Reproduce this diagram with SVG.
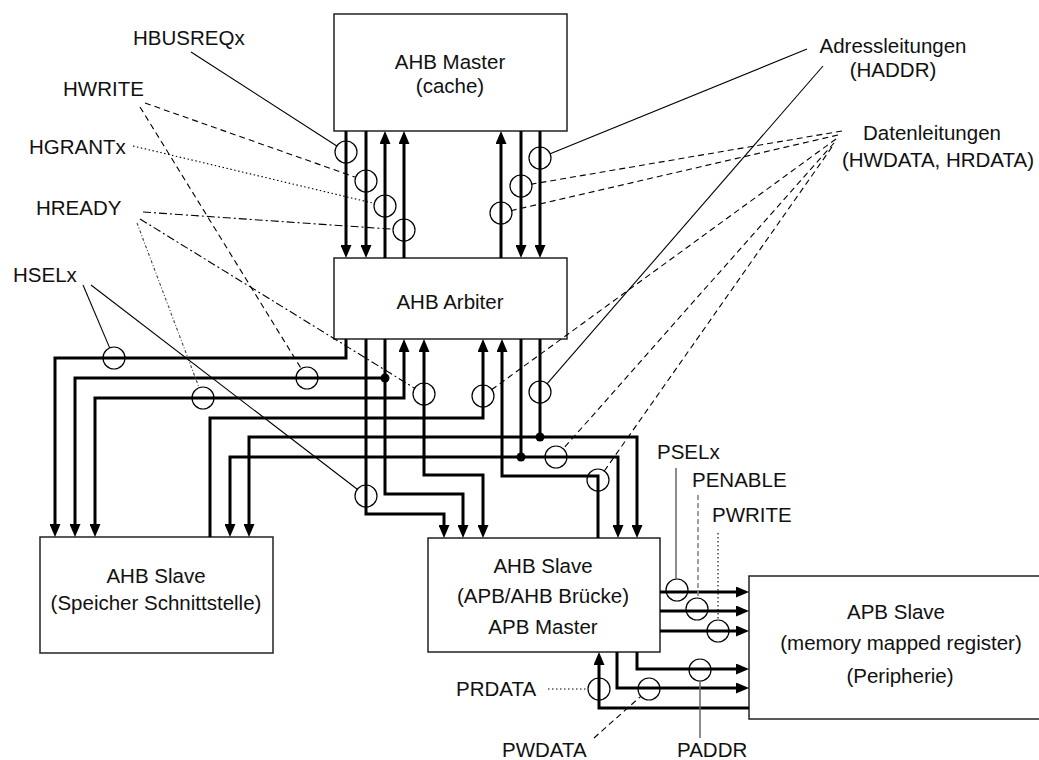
<svg xmlns="http://www.w3.org/2000/svg" width="1039" height="760" viewBox="0 0 1039 760">
<style>
.box{fill:#fff;stroke:#222;stroke-width:1.5}
.t{font-family:"Liberation Sans",Arial,sans-serif;font-size:20.5px;fill:#111}
.m{text-anchor:middle}
.bus{fill:none;stroke:#000;stroke-width:3}
.ar{marker-end:url(#ah)}
.as{marker-start:url(#ah)}
.c{fill:none;stroke:#000;stroke-width:1.2}
.l{fill:none;stroke:#000;stroke-width:1.1}
.dash{stroke-dasharray:6,4}
.dot{stroke-dasharray:1.5,2.5}
.dd{stroke-dasharray:8,3,2,3}
.ddd{stroke-dasharray:3,2,1,2;stroke:#444}
.gray{stroke:#666;stroke-width:1.5}
.gdash{stroke:#888;stroke-width:1.6;stroke-dasharray:5,3}
</style>
<defs>
<marker id="ah" viewBox="0 0 13 11" refX="5" refY="5.5" markerWidth="13" markerHeight="11" markerUnits="userSpaceOnUse" orient="auto-start-reverse">
<path d="M0,0 L13,5.5 L0,11 Z" fill="#000"/>
</marker>
</defs>
<rect width="1039" height="760" fill="#fff"/>

<g id="ahb-master">
<rect class="box" x="334" y="14" width="233" height="117"/>
<text class="t m" x="450" y="69">AHB Master</text>
<text class="t m" x="450" y="93">(cache)</text>
</g>
<g id="ahb-arbiter">
<rect class="box" x="334" y="258" width="233" height="81"/>
<text class="t m" x="450" y="309">AHB Arbiter</text>
</g>
<g id="ahb-slave-mem">
<rect class="box" x="40" y="537" width="233" height="116"/>
<text class="t m" x="156" y="583">AHB Slave</text>
<text class="t m" x="156" y="610">(Speicher Schnittstelle)</text>
</g>
<g id="ahb-slave-bridge">
<rect class="box" x="428" y="538" width="232" height="114"/>
<text class="t m" x="543" y="573">AHB Slave</text>
<text class="t m" x="543" y="603">(APB/AHB Brücke)</text>
<text class="t m" x="543" y="634">APB Master</text>
</g>
<g id="apb-slave">
<rect class="box" x="749" y="576" width="300" height="143"/>
<text class="t m" x="896" y="619">APB Slave</text>
<text class="t m" x="901" y="650">(memory mapped register)</text>
<text class="t m" x="900" y="683">(Peripherie)</text>
</g>

<g id="connectors">
<path class="bus ar" d="M346,131 V250"/>
<path class="bus ar" d="M366,131 V250"/>
<path class="bus ar" d="M385,258 V139"/>
<path class="bus ar" d="M404,258 V139"/>
<path class="bus ar" d="M501,258 V139"/>
<path class="bus ar" d="M521,131 V250"/>
<path class="bus ar" d="M540,131 V250"/>

<path class="bus ar" d="M346,339 V358 H55 V529"/>
<path class="bus ar" d="M366,339 V514 H444 V530"/>
<path class="bus ar" d="M385,339 V494 H463 V530"/>
<path class="bus ar" d="M385,378 H75 V529"/>
<path class="bus ar as" d="M404,347 V398 H95 V529"/>
<path class="bus ar as" d="M424,347 V475 H483 V530"/>
<path class="bus ar" d="M210,537 V418 H483 V347"/>
<path class="bus" d="M540,339 V437"/>
<path class="bus ar as" d="M249,529 V437 H637 V530"/>
<path class="bus" d="M521,339 V457"/>
<path class="bus ar as" d="M230,529 V457 H618 V530"/>
<path class="bus ar" d="M598,538 V476 H502 V347"/>

<path class="bus ar" d="M660,592 H741"/>
<path class="bus ar" d="M660,611 H741"/>
<path class="bus ar" d="M660,631 H741"/>
<path class="bus ar" d="M637,652 V669 H741"/>
<path class="bus ar" d="M617,652 V688 H741"/>
<path class="bus ar" d="M749,708 H599 V660"/>

<circle cx="385" cy="378" r="4.5" fill="#000"/>
<circle cx="540" cy="437" r="4.5" fill="#000"/>
<circle cx="521" cy="457" r="4.5" fill="#000"/>
</g>

<g id="signal-rings">
<circle class="c" cx="346" cy="152" r="11"/>
<circle class="c" cx="366" cy="181" r="11"/>
<circle class="c" cx="385" cy="206" r="11"/>
<circle class="c" cx="404" cy="230" r="11"/>
<circle class="c" cx="540" cy="158" r="11"/>
<circle class="c" cx="521" cy="186" r="11"/>
<circle class="c" cx="501" cy="213" r="11"/>
<circle class="c" cx="114" cy="358" r="11"/>
<circle class="c" cx="307" cy="378" r="11"/>
<circle class="c" cx="203" cy="398" r="11"/>
<circle class="c" cx="424" cy="394" r="11"/>
<circle class="c" cx="483" cy="396" r="11"/>
<circle class="c" cx="540" cy="392" r="11"/>
<circle class="c" cx="366" cy="496" r="11"/>
<circle class="c" cx="556" cy="457" r="11"/>
<circle class="c" cx="598" cy="480" r="11"/>
<circle class="c" cx="677" cy="590" r="11"/>
<circle class="c" cx="697" cy="609" r="11"/>
<circle class="c" cx="718" cy="631" r="11"/>
<circle class="c" cx="700" cy="670" r="11"/>
<circle class="c" cx="649" cy="689" r="11"/>
<circle class="c" cx="599" cy="689" r="11"/>
</g>

<g id="signal-labels">
<text class="t" x="133" y="45">HBUSREQx</text>
<text class="t" x="63" y="96">HWRITE</text>
<text class="t" x="29" y="154">HGRANTx</text>
<text class="t" x="36" y="215">HREADY</text>
<text class="t" x="13" y="282">HSELx</text>
<text class="t m" x="893" y="53">Adressleitungen</text>
<text class="t m" x="893" y="77">(HADDR)</text>
<text class="t m" x="932" y="140">Datenleitungen</text>
<text class="t m" x="938" y="167">(HWDATA, HRDATA)</text>
<text class="t" x="657" y="459">PSELx</text>
<text class="t" x="692" y="487">PENABLE</text>
<text class="t" x="712" y="522">PWRITE</text>
<text class="t" x="456" y="696">PRDATA</text>
<text class="t" x="502" y="757">PWDATA</text>
<text class="t" x="677" y="757">PADDR</text>

<line class="l" x1="191" y1="52" x2="336.8" y2="146"/>
<line class="l dash" x1="145" y1="103" x2="355.6" y2="177.3"/>
<line class="l dash" x1="140" y1="107" x2="301.2" y2="368.6"/>
<line class="l dot" x1="133" y1="146" x2="374.3" y2="203.4"/>
<line class="l dd" x1="143" y1="212" x2="393" y2="229.2"/>
<line class="l dd" x1="140" y1="219" x2="414.6" y2="388.2"/>
<line class="l ddd" x1="137" y1="223" x2="199.1" y2="387.7"/>
<line class="l" x1="83" y1="285" x2="109.7" y2="347.9"/>
<line class="l" x1="91" y1="285" x2="357.3" y2="489.3"/>
<line class="l" x1="807" y1="49" x2="550.2" y2="153.8"/>
<line class="l" x1="823" y1="66" x2="547.2" y2="383.7"/>
<line class="l dash" x1="842" y1="131" x2="531.8" y2="184.1"/>
<line class="l dash" x1="838" y1="135" x2="511.7" y2="210.5"/>
<line class="l dash" x1="836" y1="139" x2="491.9" y2="389.5"/>
<line class="l dash" x1="834" y1="143" x2="563.3" y2="448.7"/>
<line class="l dash" x1="832" y1="147" x2="604.3" y2="471"/>
<line class="l gray" x1="676" y1="468" x2="676" y2="579"/>
<line class="l gdash" x1="698" y1="495" x2="698" y2="598"/>
<line class="l dot" x1="718" y1="533" x2="718" y2="620"/>
<line class="l gray" x1="700" y1="681" x2="700" y2="738"/>
<line class="l dot" x1="548" y1="689" x2="588" y2="689"/>
<line class="l dash" x1="594" y1="738" x2="640.8" y2="696.3"/>
</g>
</svg>
